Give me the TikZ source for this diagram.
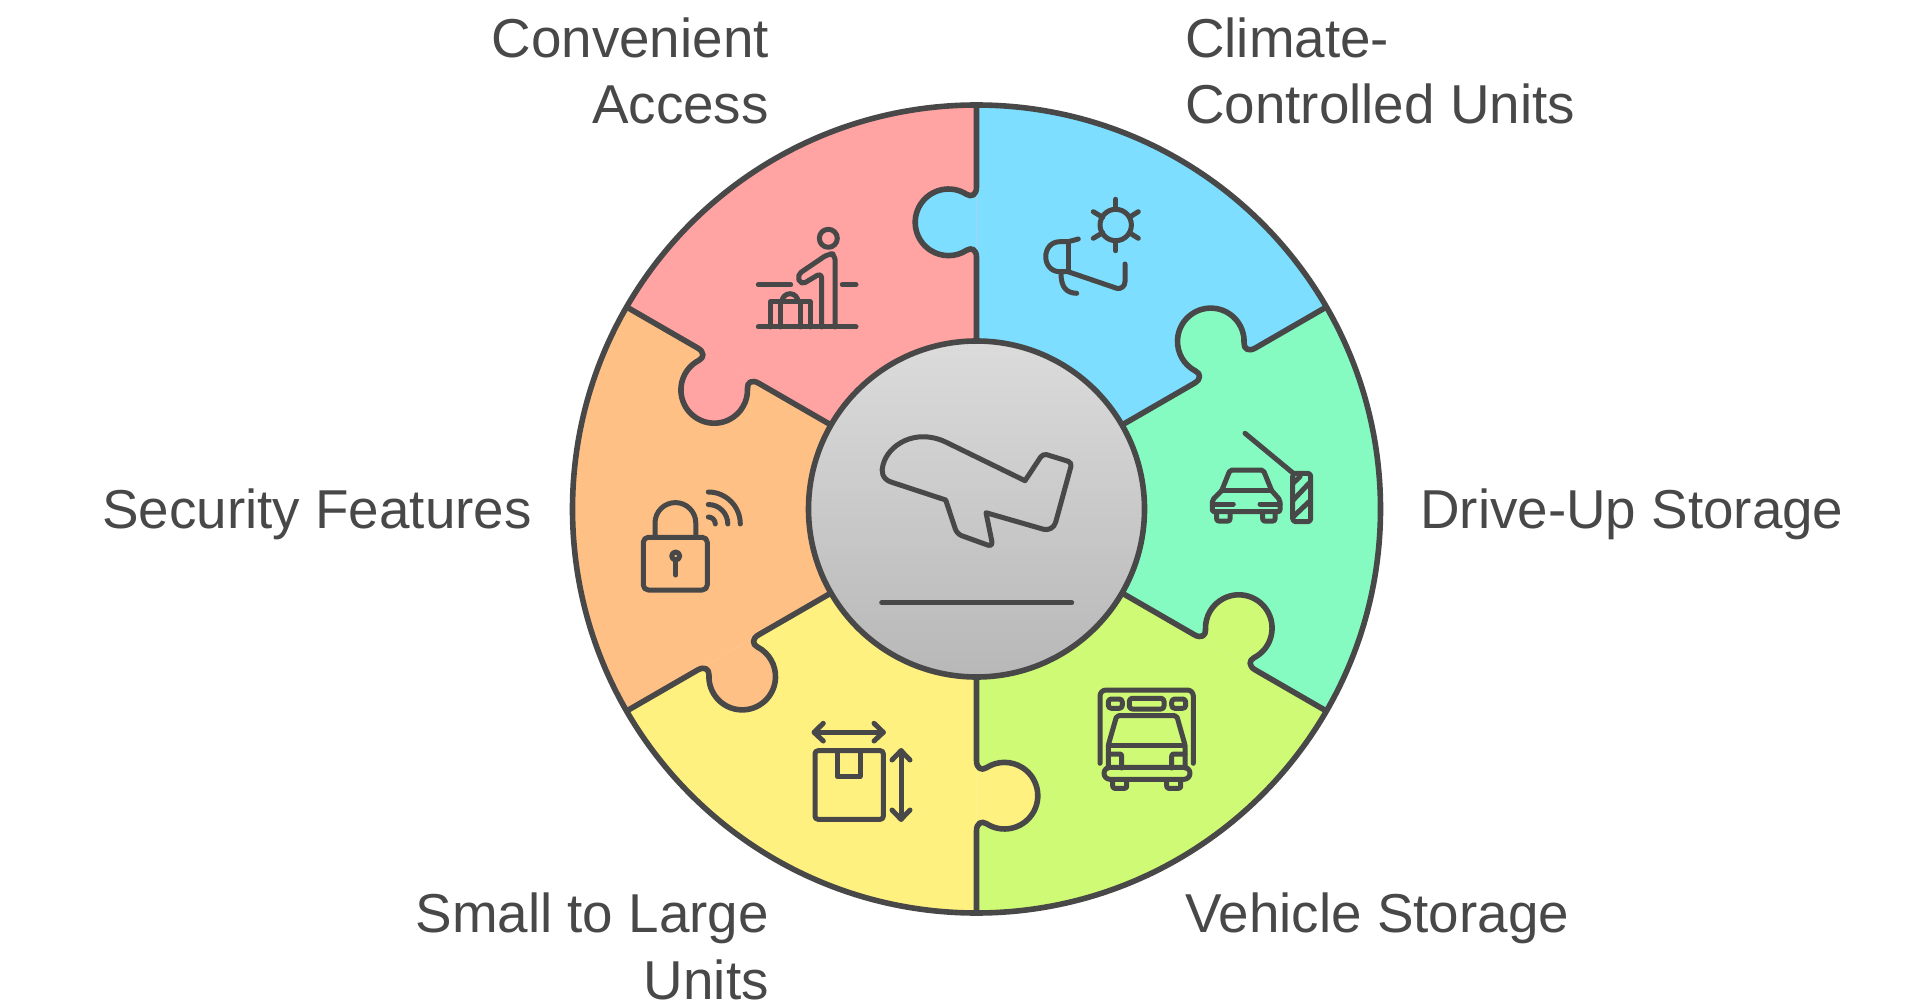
\documentclass[tikz,border=0pt]{standalone}
\usepackage{fontspec}
\setmainfont{Liberation Sans}
\usepackage{tikz}
\usetikzlibrary{positioning}
\usetikzlibrary{shapes,calc}
\definecolor{ink}{RGB}{72,72,72}
\definecolor{mypink}{RGB}{255,163,163}
\definecolor{myblue}{RGB}{125,222,255}
\definecolor{mygreen}{RGB}{133,251,194}
\definecolor{mylime}{RGB}{207,250,117}
\definecolor{myyellow}{RGB}{255,241,128}
\definecolor{myorange}{RGB}{255,192,133}
\tikzset{
	caption/.style={text=ink,inner sep=0pt,font=\fontsize{54.8}{66.7}\selectfont},
	outline/.style={draw=ink,line width=5.6pt,line join=round},
	icon/.style={draw=ink,line width=5pt,line cap=round,line join=round}
}
\newcommand{\seamline}{(0,-404) -- (0,-322) .. controls (0,-314) and (-5,-311.5) .. (-10,-314.7)
	arc[start angle=57.3,end angle=302.7,radius=33.3pt]
	.. controls (-5,-262) and (0,-259.5) .. (0,-251.5) -- (0,-168)}

\begin{document}
\begin{tikzpicture}[x=1pt,y=-1pt]
	\useasboundingbox (0,0) rectangle (1920,1008);
	\coordinate (mid) at (976.5,509);

	\foreach \k/\tone in {0/myblue,1/mygreen,2/mylime,3/myyellow,4/myorange,5/mypink}
		\fill[\tone,shift={(mid)},rotate={-60*\k}] (0,0) -- (0,-404) arc[start angle=90,end angle=30,radius=404pt] -- cycle;
	\foreach \k/\tone in {0/myblue,1/mygreen,2/mylime,3/myyellow,4/myorange,5/mypink}
		\draw[outline,fill=\tone,shift={(mid)},rotate={-60*\k}] \seamline;

	\node (ring) [outline,circle,minimum size=808pt] at (mid) {};
	\node (hub) [outline,circle,minimum size=336pt,top color=black!14,bottom color=black!28] at (mid) {};

	\node (access) [caption,align=right,anchor=base east] at (769,124) {Convenient\\Access};
	\node (climate) [caption,align=left,anchor=base west] at (1185,124) {Climate-\\Controlled Units};
	\node (driveup) [caption,anchor=base west] at (1420,528) {Drive-Up Storage};
	\node (vehicle) [caption,anchor=base west] at (1185,932) {Vehicle Storage};
	\node (sizes) [caption,align=right,anchor=base east] at (769,999) {Small to Large\\Units};
	\node (security) [caption,anchor=base east] at (532,528) {Security Features};

	\begin{scope}[every path/.style={icon}]
		\draw (881.7,602.7) -- (1071.7,602.7);
		\draw[line width=5pt] (1025,480.7) [rounded corners=4pt] -- (1043,453.5) -- (1072,462.5) [rounded corners=10pt] -- (1053,532) [sharp corners] -- (986,512.7) [rounded corners=5pt] -- (993,547) -- (957,534) [sharp corners] -- (945.7,500) -- (891,482)
			.. controls (882,479) and (881,471) .. (883,465) .. controls (888,445) and (915,428) .. (945,441.7) -- cycle;

		\draw (828.3,238.3) circle (9pt);
		\draw (758.3,327) -- (856,327);
		\draw (758.3,284.7) -- (790.7,284.7);
		\draw (842.3,284.7) -- (856,284.7);
		\draw[rounded corners=5pt] (835,327) -- (835,254) -- (828,254) -- (797,275) -- (801,285) -- (821.7,272.7) -- (821.7,327);
		\draw (770.7,327) -- (770.7,301.7) -- (810,301.7) -- (810,327);
		\draw (780,302) -- (780,327);
		\draw (800,302) -- (800,327);
		\draw (782,301.7) arc[start angle=180,end angle=0,radius=8pt];

		\draw (1115.7,225) circle (15.7pt);
		\draw (1115.7,199.3) -- (1115.7,209.3);
		\draw (1115.7,240.7) -- (1115.7,250.7);
		\draw (1093.3,211.7) -- (1102.7,217.3);
		\draw (1138.3,211.7) -- (1129.3,217.3);
		\draw (1093.3,238.3) -- (1102.7,232.7);
		\draw (1138.3,238.3) -- (1129.3,232.7);
		\draw (1078.3,239) -- (1068.3,241.7) -- (1060,241.7) .. controls (1041,241.7) and (1041,271.7) .. (1060,271.7) -- (1068,271.7) -- (1116.7,288.3) .. controls (1121,289.5) and (1125,286) .. (1125,281.7) -- (1125,264);
		\draw (1068.3,241.7) -- (1068.3,271.7);
		\draw (1061,273) .. controls (1061,287) and (1066,293) .. (1076.7,293.3);

		\draw (1245,433.3) -- (1293.3,473.3);
		\draw[rounded corners=3pt] (1292.7,473.3) rectangle (1310.7,521.7);
		\draw (1293.3,483) -- (1300,476.7);
		\draw (1293.3,500) -- (1309,483.3);
		\draw (1293.3,516.7) -- (1309,501.7);
		\draw[rounded corners=2pt] (1221.7,490.7) -- (1230,470) -- (1263.3,470) -- (1271.7,490.7);
		\draw (1221.7,490.7) -- (1271.7,490.7);
		\draw[rounded corners=2pt] (1221.7,490.7) -- (1212.3,500) -- (1212.3,511.7) -- (1280,511.7) -- (1280,500) -- (1271.7,490.7);
		\draw (1213,504) -- (1233.3,504);
		\draw (1260,504) -- (1280,504);
		\draw[rounded corners=2pt] (1216.7,513) -- (1216.7,521) -- (1230,521) -- (1230,513);
		\draw[rounded corners=2pt] (1262.7,513) -- (1262.7,521) -- (1275,521) -- (1275,513);

		\draw[rounded corners=6pt] (1100,763.3) -- (1100,690) -- (1193.3,690) -- (1193.3,763.3);
		\draw[rounded corners=3pt] (1108.3,699) rectangle (1122.3,708.3);
		\draw[rounded corners=3pt] (1129.3,698.3) rectangle (1164,709);
		\draw[rounded corners=3pt] (1171.7,699) rectangle (1185.7,708.3);
		\draw[rounded corners=2pt] (1108.3,768) -- (1108.3,745) -- (1116.7,715.7) -- (1176.7,715.7) -- (1185,745) -- (1185,768);
		\draw (1108.3,745) -- (1185,745);
		\draw[rounded corners=2pt] (1108.3,754) -- (1121.7,754) -- (1121.7,768);
		\draw[rounded corners=2pt] (1185,754) -- (1171.7,754) -- (1171.7,768);
		\draw[rounded corners=6pt] (1104,767.3) rectangle (1190,779.3);
		\draw[rounded corners=2pt] (1112.7,780) -- (1112.7,788.3) -- (1126.7,788.3) -- (1126.7,780);
		\draw[rounded corners=2pt] (1166.7,780) -- (1166.7,788.3) -- (1180.7,788.3) -- (1180.7,780);

		\draw[rounded corners=3pt] (815,750.7) rectangle (883.3,819.3);
		\draw (837.3,751.7) -- (837.3,776.7) -- (860,776.7) -- (860,751.7);
		\draw (815,732.3) -- (883.3,732.3);
		\draw (823.3,723.3) -- (814,732.3) -- (823.3,741);
		\draw (874,723.3) -- (883.3,732.3) -- (874,741);
		\draw (901,750.7) -- (901,819.3);
		\draw (892,760) -- (901,750.7) -- (910,760);
		\draw (892,810) -- (901,819.3) -- (910,810);

		\draw[rounded corners=5pt] (643.3,537.3) rectangle (707.3,590);
		\draw (655,537.3) -- (655,523) arc[start angle=180,end angle=0,radius=20.4pt] -- (695.8,537.3);
		\draw (675.7,556) circle (4pt);
		\draw (675.7,560) -- (675.7,575);
		\foreach \rad in {7,19.5,32}
			\draw ($(708.3,524)+(0,-\rad)$) arc[start angle=90,end angle=0,radius=\rad pt];
	\end{scope}
\end{tikzpicture}
\end{document}
